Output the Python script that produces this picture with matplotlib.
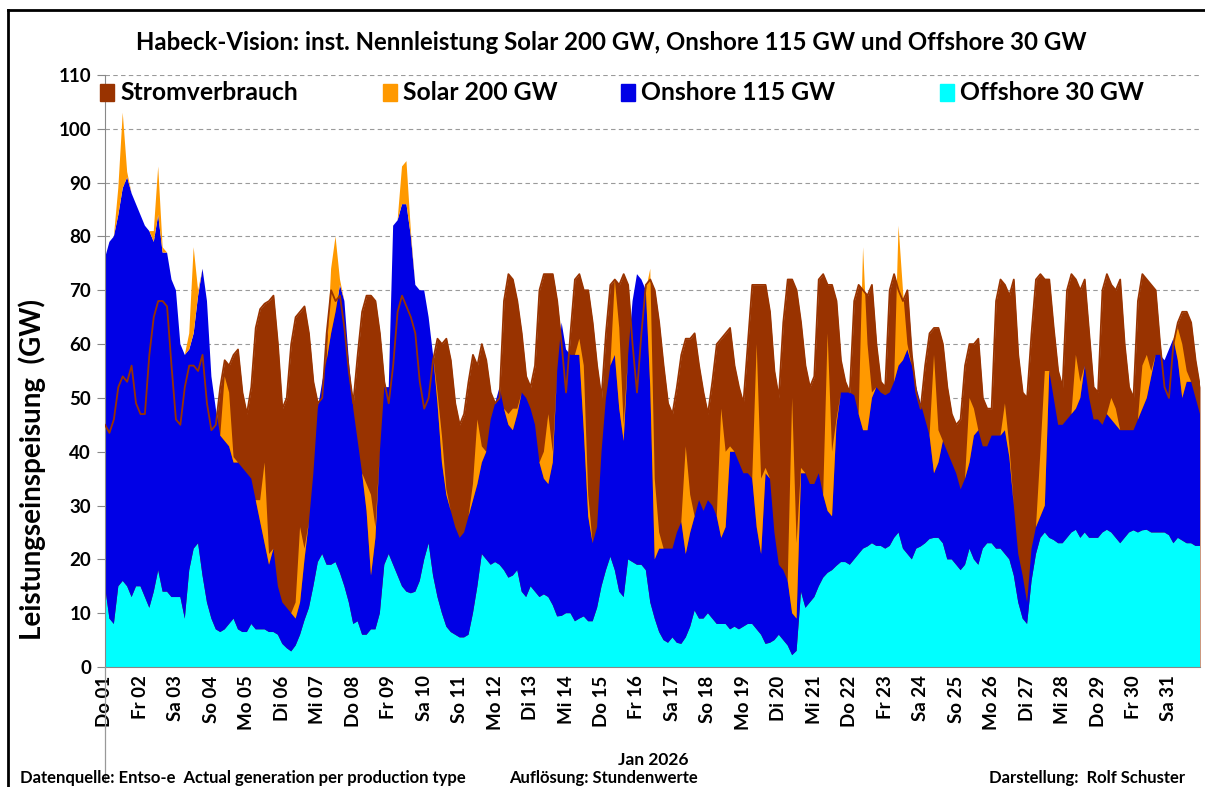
import numpy as np
import matplotlib
matplotlib.use("Agg")
import matplotlib.pyplot as plt
from matplotlib.patches import Rectangle
from matplotlib.lines import Line2D

plt.rcParams['font.family'] = ['Lato', 'DejaVu Sans']

DAY_LABELS = ["Do 01", "Fr 02", "Sa 03", "So 04", "Mo 05", "Di 06", "Mi 07", "Do 08",
              "Fr 09", "Sa 10", "So 11", "Mo 12", "Di 13", "Mi 14", "Do 15", "Fr 16",
              "Sa 17", "So 18", "Mo 19", "Di 20", "Mi 21", "Do 22", "Fr 23", "Sa 24",
              "So 25", "Mo 26", "Di 27", "Mi 28", "Do 29", "Fr 30", "Sa 31"]

# 3-hourly values (00,03,06,09,12,15,18,21 h) per day, GW
OFFSHORE = [
    15, 9, 8, 15, 16, 15, 13, 15,
    15, 13, 11, 14, 18, 14, 14, 13,
    13, 13, 9, 18, 22, 23, 17, 12,
    9, 7, 6.5, 7, 8, 9, 7, 6.5,
    6.5, 8, 7, 7, 7, 6.5, 6.5, 6,
    4.3, 3.5, 2.9, 4, 6, 8.7, 11, 15,
    19.5, 21, 19, 19, 19.5, 17.5, 15, 12,
    8, 8.5, 6, 6, 7, 7, 10, 19,
    21, 19, 17, 15, 14, 13.7, 14, 16,
    20, 23, 17, 13, 10, 7.5, 6.5, 6,
    5.5, 5.5, 6, 10, 15, 21, 20, 19,
    19.5, 19, 18, 16.6, 17, 18, 14, 13,
    15, 14, 13, 13.5, 13, 11.5, 9.4, 9.5,
    10, 10, 8.5, 9, 9.4, 8.5, 8.5, 11,
    15, 18, 20.5, 18, 14, 13, 20, 19.5,
    19, 19, 18, 12, 9, 6.5, 5, 4.5,
    5.5, 4.5, 4.3, 5.5, 7.5, 10.5, 9, 9,
    10, 9, 8, 8, 8, 7, 7.5, 7,
    7.5, 8, 8, 7, 6, 4.3, 4.5, 5,
    6, 5, 4, 2.2, 3, 14, 11, 12,
    13, 15, 16.6, 17.5, 18, 18.8, 19.5, 19.5,
    19, 20, 21, 22, 22.4, 23, 22.5, 22.5,
    22, 22.5, 24, 25, 22, 21, 20, 22,
    22.4, 23, 23.8, 24, 24, 23, 20, 20,
    19, 18, 19, 22, 20, 19, 22, 23,
    23, 22, 22, 21, 20, 17, 12, 9,
    8, 16, 21, 24, 25, 24, 23.6, 23,
    23, 24, 25, 25.5, 24, 25, 24, 24,
    24, 25, 25.5, 25, 24, 23, 24, 25,
    25.4, 25, 25.4, 25.5, 25, 25, 25, 25,
    24.5, 23, 24, 23.5, 23, 23, 22.5, 22.5,
]

ONSHORE = [
    61, 70, 72, 69, 73, 76, 75, 71,
    69, 69, 70, 65, 66, 63, 63, 59,
    57, 47, 49, 41, 40, 46, 57, 56,
    45, 41, 36.5, 35, 33, 29, 31, 30.5,
    29.5, 27, 24, 20, 16, 12.5, 15.5, 9,
    7.7, 7.5, 7.1, 5, 6, 11.3, 16, 21,
    28.5, 32, 38, 43, 46.5, 53.5, 53, 45,
    40, 33.5, 30, 23, 10, 17, 30, 33,
    31, 63, 66, 71, 72, 66.3, 57, 54,
    50, 42, 41, 36, 28, 24.5, 22.5, 20,
    18.5, 19.5, 22, 21, 19, 17, 20, 27,
    29.5, 33, 30, 28.4, 27, 29, 37, 37,
    33, 31, 25, 21.5, 21, 26.5, 45.6, 54.5,
    49, 48, 49.5, 49, 34.6, 19.5, 14.5, 15,
    25, 32, 35.5, 40, 34, 29, 38, 48.5,
    54, 53, 52, 40, 11, 15.5, 17, 17.5,
    16.5, 20.5, 22.7, 15.5, 17.5, 17.5, 22, 20,
    21, 21, 20, 16, 18, 33, 32.5, 31,
    28.5, 28, 27, 19, 15, 31.7, 30.5, 20,
    13, 13, 12, 7.8, 6, 22, 25, 22,
    21, 21, 15.4, 11.5, 10, 26.2, 31.5, 31.5,
    32, 30.5, 26, 22, 21.6, 27, 29.5, 28.5,
    28.5, 28.5, 29, 31, 35, 38, 36, 30,
    26.6, 23, 19.2, 12, 14, 19, 20, 18,
    17, 15, 16, 16, 23, 25, 19, 18,
    20, 21, 21, 23, 19, 13, 9, 8,
    4, 6, 5, 4, 5, 31, 26.4, 22,
    22, 22, 22, 22.5, 26, 31, 26, 22,
    22, 20, 21.5, 21, 21, 21, 20, 19,
    18.6, 21, 22.6, 24.5, 29, 33, 33, 32,
    34.5, 38, 33, 26.5, 30, 30, 27.5, 24.5,
]

SOLAR = [
    0, 0, 0, 5, 14, 1, 0, 0,
    0, 0, 0, 2, 9, 1, 0, 0,
    0, 0, 0, 3, 16, 1, 0, 0,
    0, 0, 0, 12, 10, 1, 0, 0,
    0, 0, 0, 4, 15, 2, 0, 0,
    0, 0, 0, 3, 14, 2, 0, 0,
    0, 0, 0, 12, 14, 1, 0, 0,
    0, 0, 0, 5, 15, 2, 0, 0,
    0, 0, 0, 7, 8, 1, 0, 0,
    0, 0, 0, 2, 5, 1, 0, 0,
    0, 0, 0, 3, 12, 3, 0, 0,
    0, 0, 0, 2, 4, 1, 0, 0,
    0, 0, 0, 5, 13, 2, 0, 0,
    0, 0, 0, 3, 12, 4, 0, 0,
    0, 0, 0, 14, 15, 3, 0, 0,
    0, 0, 0, 22, 15, 3, 0, 0,
    0, 0, 0, 20, 7, 0, 0, 0,
    0, 0, 0, 24, 14, 1, 0, 0,
    0, 0, 0, 34, 14, 1, 0, 0,
    0, 0, 0, 40, 14, 1, 0, 0,
    0, 0, 0, 33, 12, 1, 0, 0,
    0, 0, 0, 34, 16, 1, 0, 0,
    0, 0, 0, 26, 13, 1, 0, 0,
    0, 0, 0, 22, 6, 0, 0, 0,
    0, 0, 0, 12, 5, 0, 0, 0,
    0, 0, 0, 5, 2, 0, 0, 0,
    0, 0, 0, 12, 25, 0, 0, 0,
    0, 0, 0, 10, 3, 0, 0, 0,
    0, 0, 0, 4, 3, 0, 0, 0,
    0, 0, 8, 8, 1, 0, 0, 0,
    0, 0, 6, 10, 2, 0, 0, 0,
]

VERBRAUCH = [
    45, 43.5, 46, 52, 54, 53, 56, 49,
    47, 47, 58, 65, 68, 68, 67, 56,
    46, 45, 52, 56, 56, 55, 58, 49,
    44, 45, 52, 57, 56, 58, 59, 51,
    47, 52, 63, 66.5, 67.5, 68, 69, 60,
    48, 50, 60, 65, 66, 67, 62, 53,
    49, 50, 62, 70, 68, 69, 63, 55,
    49, 58, 66, 69, 69, 68, 62, 53,
    49, 56, 66, 69, 67, 65, 62, 53,
    48, 50, 57, 61, 60, 61, 57, 49,
    45, 47, 53, 58, 56, 60, 57, 51,
    49, 50, 68, 73, 72, 68, 62, 54,
    52, 56, 70, 73, 73, 73, 68, 60,
    51, 62, 72, 73, 70, 70, 64, 56,
    50, 62, 71, 72, 71, 73, 71, 60,
    51, 62, 71, 72, 70, 64, 56, 49,
    47, 52, 58, 61, 61, 62, 56, 51,
    47, 53, 60, 61, 62, 63, 56, 52,
    49, 60, 71, 71, 71, 71, 66, 55,
    50, 64, 72, 72, 70, 64, 56, 52,
    54, 72, 73, 71, 71, 68, 57, 53,
    51, 68, 71, 70, 69, 71, 60, 53,
    52, 70, 73, 70, 68, 70, 58, 51,
    48, 56, 62, 63, 63, 60, 52, 47,
    45, 46, 56, 60, 60, 61, 50, 48,
    48, 68, 72, 71, 69, 72, 58, 51,
    50, 62, 72, 73, 72, 72, 63, 55,
    52, 70, 73, 72, 70, 72, 62, 52,
    51, 70, 73, 71, 70, 72, 60, 52,
    50, 68, 73, 72, 71, 70, 60, 52,
    50, 60, 64, 66, 66, 64, 57, 52,
]

LEGEND = ["Stromverbrauch", "Solar 200 GW", "Onshore 115 GW", "Offshore 30 GW"]

C_BROWN = "#993300"
C_ORANGE = "#FF9900"
C_BLUE = "#0000E6"
C_CYAN = "#00FFFF"

W, H = 1205, 787
fig = plt.figure(figsize=(W / 100, H / 100), dpi=100)
fx = lambda px: px / W
fy = lambda py: 1 - py / H

ax = fig.add_axes([fx(105), fy(667), fx(1200) - fx(105), fy(75) - fy(667)])

hours = np.arange(len(VERBRAUCH)) * 3
off = np.array(OFFSHORE)
on = np.array(ONSHORE)
sol = np.array(SOLAR)
cons = np.array(VERBRAUCH)

ax.fill_between(hours, 0, cons, color=C_BROWN, lw=0, zorder=1)
ax.stackplot(hours, off, on, sol, colors=[C_CYAN, C_BLUE, C_ORANGE], lw=0, zorder=2)
ax.plot(hours, cons, color=C_BROWN, lw=1.3, zorder=3)

ax.set_xlim(0, 741)
ax.set_ylim(0, 110)
ax.set_yticks(np.arange(0, 111, 10))
ax.set_xticks(np.arange(31) * 24)
ax.set_xticklabels(DAY_LABELS, rotation=90, fontsize=13.5, fontweight="bold")
for lbl in ax.get_yticklabels():
    lbl.set_fontweight("bold")
ax.tick_params(axis="y", labelsize=13.5, length=6, color="#888888", pad=4)
ax.tick_params(axis="x", length=0, pad=6)
ax.grid(axis="y", color="#9a9a9a", linestyle=(0, (4, 3)), lw=0.8)
ax.set_axisbelow(True)
for s in ["top", "right"]:
    ax.spines[s].set_visible(False)
ax.spines["left"].set_color("#888888")
ax.spines["bottom"].set_color("#888888")

# axis line extending below plot
fig.add_artist(Line2D([fx(105), fx(105)], [fy(667), fy(782)], color="#999999", lw=0.9))

# figure frame
fig.add_artist(Line2D([fx(8), fx(1205)], [fy(10), fy(10)], color="black", lw=2))
fig.add_artist(Line2D([fx(8), fx(8)], [fy(10), fy(787)], color="black", lw=2))

fig.text(fx(611), fy(43), "Habeck-Vision: inst. Nennleistung Solar 200 GW, Onshore 115 GW und Offshore 30 GW",
         ha="center", va="center", fontsize=17.3, fontweight="bold")

fig.text(fx(32), fy(470), "Leistungseinspeisung  (GW)", rotation=90, ha="center", va="center",
         fontsize=20, fontweight="bold")

leg_x = [100, 383, 621, 940]
leg_c = [C_BROWN, C_ORANGE, C_BLUE, C_CYAN]
for x0, c, t in zip(leg_x, leg_c, LEGEND):
    fig.add_artist(Rectangle((fx(x0), fy(101)), fx(14), fy(84) - fy(101), color=c,
                             transform=fig.transFigure, zorder=5))
    fig.text(fx(x0 + 20), fy(93), t, ha="left", va="center", fontsize=17.8, fontweight="bold")

fig.text(fx(653), fy(760), "Jan 2026", ha="center", va="center", fontsize=12.5, fontweight="bold")
fig.text(fx(20), fy(778), "Datenquelle: Entso-e  Actual generation per production type",
         ha="left", va="center", fontsize=12, fontweight="bold")
fig.text(fx(509), fy(778), "Auflösung: Stundenwerte", ha="left", va="center",
         fontsize=12, fontweight="bold")
fig.text(fx(1185), fy(778), "Darstellung:  Rolf Schuster", ha="right", va="center",
         fontsize=12, fontweight="bold")

fig.savefig("out.png", dpi=100)
